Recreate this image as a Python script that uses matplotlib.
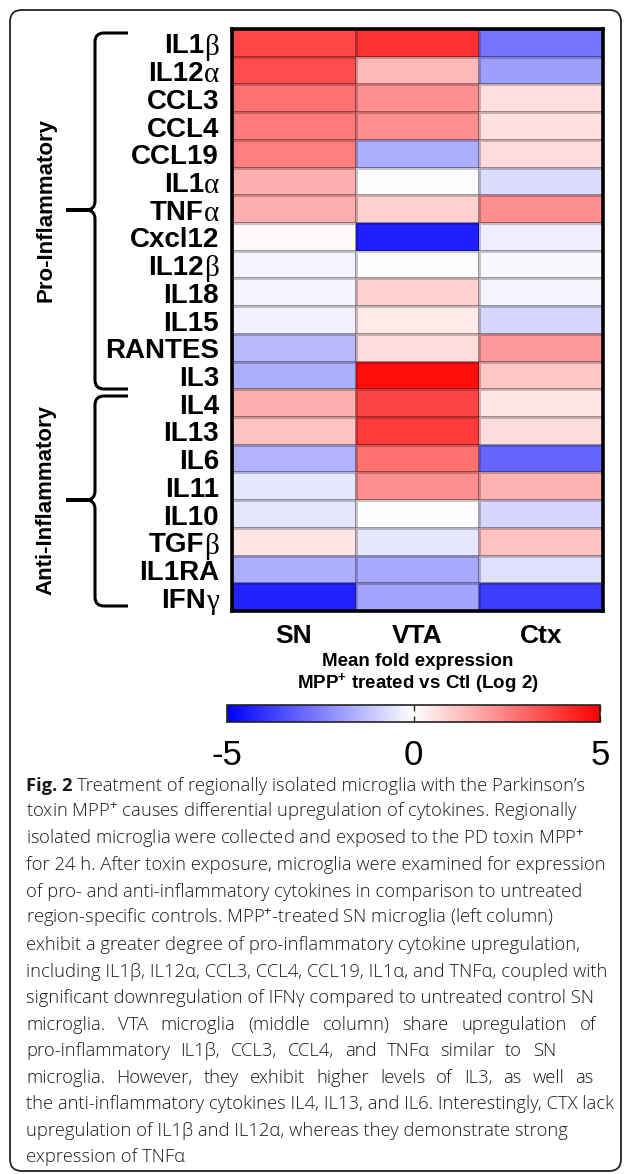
import matplotlib
matplotlib.use("Agg")
import matplotlib.pyplot as plt
import numpy as np
from matplotlib.path import Path
from matplotlib.patches import PathPatch, FancyBboxPatch
from matplotlib.transforms import IdentityTransform, blended_transform_factory, ScaledTranslation

# ---------------- data ----------------
cytokine_base = ["IL1", "IL12", "CCL3", "CCL4", "CCL19", "IL1", "TNF", "Cxcl12", "IL12", "IL18",
                 "IL15", "RANTES", "IL3", "IL4", "IL13", "IL6", "IL11", "IL10", "TGF", "IL1RA", "IFN"]
cytokine_greek = ["β", "α", "", "", "", "α", "α", "", "β", "",
                  "", "", "", "", "", "", "", "", "β", "", "γ"]
regions = ["SN", "VTA", "Ctx"]
sn_values = [3.6, 3.5, 2.8, 2.6, 2.5, 1.6, 1.6, 0.1, -0.2, -0.2,
             -0.3, -1.4, -1.6, 1.6, 1.2, -1.5, -0.5, -0.5, 0.5, -1.6, -4.3]
vta_values = [4.05, 1.4, 2.2, 2.2, -1.6, 0.0, 0.9, -4.4, 0.0, 0.9,
              0.4, 0.7, 4.75, 3.65, 3.85, 2.8, 2.2, 0.0, -0.5, -1.7, -1.8]
ctx_values = [-2.7, -1.9, 0.65, 0.6, 0.7, -0.7, 2.2, -0.35, -0.15, -0.2,
              -0.8, 2.0, 1.1, 0.5, 0.7, -3.0, 1.5, -0.8, 1.2, -0.6, -3.8]
group_labels = ["Pro-Inflammatory", "Anti-Inflammatory"]
cbar_ticks = [-5, 0, 5]
xlabel_lines = ["Mean fold expression", r"MPP$^{\mathbf{+}}$ treated vs Ctl (Log 2)"]

caption_lines = [
    "Treatment of regionally isolated microglia with the Parkinson’s",
    "toxin MPP$^{+}$ causes differential upregulation of cytokines. Regionally",
    "isolated microglia were collected and exposed to the PD toxin MPP$^{+}$",
    "for 24 h. After toxin exposure, microglia were examined for expression",
    "of pro- and anti-inflammatory cytokines in comparison to untreated",
    "region-specific controls. MPP$^{+}$-treated SN microglia (left column)",
    "exhibit a greater degree of pro-inflammatory cytokine upregulation,",
    "including IL1β, IL12α, CCL3, CCL4, CCL19, IL1α, and TNFα, coupled with",
    "significant downregulation of IFNγ compared to untreated control SN",
    "microglia. VTA microglia (middle column) share upregulation of",
    "pro-inflammatory IL1β, CCL3, CCL4, and TNFα similar to SN",
    "microglia. However, they exhibit higher levels of IL3, as well as",
    "the anti-inflammatory cytokines IL4, IL13, and IL6. Interestingly, CTX lack",
    "upregulation of IL1β and IL12α, whereas they demonstrate strong",
    "expression of TNFα",
]
caption_bold = "Fig. 2"

# ---------------- setup ----------------
plt.rcParams["mathtext.fontset"] = "custom"
plt.rcParams["mathtext.rm"] = "Open Sans"
plt.rcParams["mathtext.bf"] = "Liberation Sans:bold"
plt.rcParams["font.family"] = ["Liberation Sans", "DejaVu Sans"]

W, H = 627, 1174
fig = plt.figure(figsize=(W / 100, H / 100), dpi=100)
fig.patch.set_facecolor("white")
renderer = fig.canvas.get_renderer()
ID = IdentityTransform()


def ptext(x, y, s, **kw):
    """text at pixel position (y measured from top)"""
    return fig.text(x, H - y, s, transform=ID, **kw)


# ---------------- heatmap ----------------
ax = fig.add_axes([232 / W, 1 - 611 / H, 371 / W, 582 / H])
data = np.column_stack([sn_values, vta_values, ctx_values])
mesh = ax.pcolormesh(data, cmap="bwr", vmin=-5, vmax=5,
                     edgecolors=(0, 0, 0, 0.22), linewidth=0.8)
ax.set_xlim(0, len(regions))
ax.set_ylim(len(cytokine_base), 0)
ax.set_xticks([])
ax.set_yticks([])
for s in ax.spines.values():
    s.set_linewidth(2.6)
    s.set_color("black")

lab_tr = blended_transform_factory(ax.transAxes, ax.transData)
for i, (b, g) in enumerate(zip(cytokine_base, cytokine_greek)):
    y = i + 0.88
    shift = 0.0
    if g:
        tg = ax.text(0, y + 0.05, g, transform=lab_tr + ScaledTranslation(-13 / 100, 0, fig.dpi_scale_trans),
                     ha="right", va="baseline", fontsize=21, family="Liberation Serif", color="black")
        shift = tg.get_window_extent(renderer).width
    ax.text(0, y, b, transform=lab_tr + ScaledTranslation((-13 - shift) / 100, 0, fig.dpi_scale_trans),
            ha="right", va="baseline", fontsize=20, fontweight="bold", color="black")

for j, name in enumerate(regions):
    ax.text(j + 0.5, len(cytokine_base) + 1.15, name, ha="center", va="baseline",
            fontsize=19, fontweight="bold", clip_on=False)

ptext(417.5, 665.5, xlabel_lines[0], ha="center", va="baseline", fontsize=13.5, fontweight="bold")
ptext(417.5, 689, xlabel_lines[1], ha="center", va="baseline", fontsize=13.5, fontweight="bold")

# ---------------- colorbar ----------------
cax = fig.add_axes([227 / W, 1 - 722 / H, 373 / W, 17 / H])
cb = fig.colorbar(mesh, cax=cax, orientation="horizontal", ticks=cbar_ticks)
cb.outline.set_linewidth(1.2)
cb.outline.set_edgecolor("#222222")
cax.set_xticklabels([str(t) for t in cbar_ticks])
cax.tick_params(direction="in", length=4, width=1, top=True, bottom=True,
                labelsize=25, pad=12, color="#222222")

# ---------------- braces ----------------
def brace(x_line, x_arm, x_tip, y_top, y_mid, y_bot, r):
    Y = lambda y: H - y
    verts = [(x_arm, Y(y_top)), (x_line + r, Y(y_top)), (x_line, Y(y_top)), (x_line, Y(y_top + r)),
             (x_line, Y(y_mid - r)), (x_line, Y(y_mid)), (x_line - r, Y(y_mid)), (x_tip, Y(y_mid)),
             (x_tip, Y(y_mid)), (x_line - r, Y(y_mid)), (x_line, Y(y_mid)), (x_line, Y(y_mid + r)),
             (x_line, Y(y_bot - r)), (x_line, Y(y_bot)), (x_line + r, Y(y_bot)), (x_arm, Y(y_bot))]
    codes = [Path.MOVETO, Path.LINETO, Path.CURVE3, Path.CURVE3,
             Path.LINETO, Path.CURVE3, Path.CURVE3, Path.LINETO,
             Path.MOVETO, Path.LINETO, Path.CURVE3, Path.CURVE3,
             Path.LINETO, Path.CURVE3, Path.CURVE3, Path.LINETO]
    p = PathPatch(Path(verts, codes), transform=ID, fill=False, lw=2.2,
                  edgecolor="black", capstyle="butt", joinstyle="round")
    fig.add_artist(p)


brace(95, 128, 66, 33, 210, 389, 9)
brace(95, 128, 66, 396, 500, 606, 9)
ptext(46, 210, group_labels[0], rotation=90, ha="center", va="center", fontsize=16, fontweight="bold")
ptext(46, 500, group_labels[1], rotation=90, ha="center", va="center", fontsize=16, fontweight="bold")

# ---------------- caption ----------------
cap_family = ["Open Sans", "DejaVu Sans"]
cap_kw = dict(family=cap_family, fontweight=300, color="#1a1a1a", va="baseline", ha="left")


def measure(s, **kw):
    t = ptext(0, 0, s, **kw)
    w = t.get_window_extent(renderer).width
    t.remove()
    return w


x0 = 26
justify_right = {9: 596, 10: 556, 11: 594}
max_w10 = max(measure(caption_lines[k], fontsize=10, **cap_kw)
              for k in (1, 3, 7, 12))
cap_fs = 10 * 588 / max_w10

space_w = measure("a a", fontsize=cap_fs, **cap_kw) - measure("aa", fontsize=cap_fs, **cap_kw)
for i, line in enumerate(caption_lines):
    yb = 790.7 + 26.55 * i
    if i == 0:
        tb = ptext(x0, yb, caption_bold, fontsize=cap_fs, family=cap_family, fontweight="bold",
                   color="#1a1a1a", va="baseline", ha="left")
        wb = tb.get_window_extent(renderer).width
        ptext(x0 + wb + space_w, yb, line, fontsize=cap_fs, **cap_kw)
    elif i in justify_right:
        words = line.split(" ")
        widths = [measure(wd, fontsize=cap_fs, **cap_kw) for wd in words]
        gap = (justify_right[i] - x0 - sum(widths)) / (len(words) - 1)
        gap = max(gap, space_w)
        x = x0
        for wd, ww in zip(words, widths):
            ptext(x, yb, wd, fontsize=cap_fs, **cap_kw)
            x += ww + gap
    else:
        ptext(x0, yb, line, fontsize=cap_fs, **cap_kw)

# ---------------- border ----------------
border = FancyBboxPatch((10, H - 1171), 611, 1161, boxstyle="round,pad=0,rounding_size=12",
                        transform=ID, fill=False, lw=1.3, edgecolor="#222222")
fig.add_artist(border)

fig.savefig("out.png", dpi=100)
